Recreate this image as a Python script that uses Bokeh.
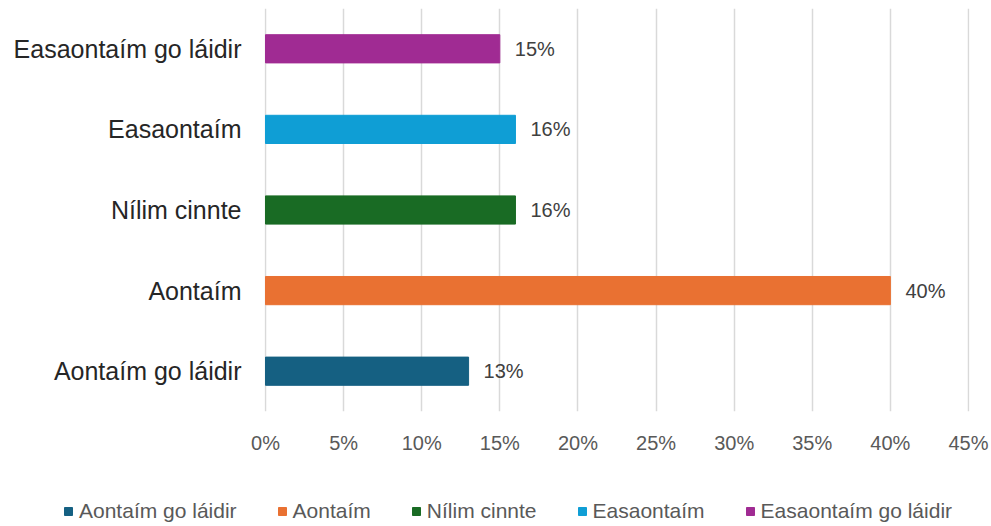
from bokeh.plotting import figure
from bokeh.layouts import column
from bokeh.models import ColumnDataSource, FactorRange, Range1d, FixedTicker, NumeralTickFormatter, Legend, LegendItem
from bokeh.core.properties import value
from bokeh.embed import file_html
from bokeh.resources import INLINE

categories = ["Aontaím go láidir", "Aontaím", "Nílim cinnte", "Easaontaím", "Easaontaím go láidir"]
values = [0.13, 0.40, 0.16, 0.16, 0.15]
colors = ["#156082", "#E97132", "#196B24", "#0F9ED5", "#A02B93"]
x_ticks = [0, 0.05, 0.10, 0.15, 0.20, 0.25, 0.30, 0.35, 0.40, 0.45]

labels = [f"{round(v * 100)}%" for v in values]
src = ColumnDataSource(dict(cats=categories, vals=values, colors=colors, labels=labels))

FONT = "Liberation Sans"

p = figure(width=991, height=470, y_range=FactorRange(*categories),
           x_range=Range1d(-0.00064, 0.45064),
           output_backend="svg", toolbar_location=None,
           min_border_left=264, min_border_right=22, min_border_top=8, min_border_bottom=59)
p.outline_line_color = None
p.background_fill_color = "white"
p.border_fill_color = "white"
p.frame_align = False

p.hbar(y="cats", right="vals", left=0, height=0.35, color="colors", source=src)

p.text(x="vals", y="cats", text="labels", source=src, x_offset=15,
       text_align="left", text_baseline="middle", text_font=value(FONT),
       text_font_size="20px", text_color="#404040")

# x axis
p.xaxis.ticker = FixedTicker(ticks=x_ticks)
p.xaxis.formatter = NumeralTickFormatter(format="0%")
p.xaxis.axis_line_color = None
p.xaxis.major_tick_line_color = None
p.xaxis.minor_tick_line_color = None
p.xaxis.major_tick_out = 0
p.xaxis.major_label_standoff = 20
p.xaxis.major_label_text_font = FONT
p.xaxis.major_label_text_font_size = "20px"
p.xaxis.major_label_text_color = "#595959"

# y axis
p.yaxis.axis_line_color = None
p.yaxis.major_tick_line_color = None
p.yaxis.minor_tick_line_color = None
p.yaxis.major_tick_out = 0
p.yaxis.major_label_standoff = 23
p.yaxis.major_label_text_font = FONT
p.yaxis.major_label_text_font_size = "25px"
p.yaxis.major_label_text_color = "#262626"

p.ygrid.grid_line_color = None
p.xgrid.ticker = FixedTicker(ticks=x_ticks)
p.xgrid.grid_line_color = "#d9d9d9"
p.xgrid.grid_line_width = 1.5

# legend strip: a hidden copy of the bars supplies the legend swatches
p2 = figure(width=991, height=56, y_range=FactorRange(*categories),
            x_range=Range1d(10, 11), x_axis_location=None, y_axis_location=None,
            output_backend="svg", toolbar_location=None,
            min_border_left=0, min_border_right=0, min_border_top=0, min_border_bottom=0)
p2.outline_line_color = None
p2.grid.grid_line_color = None
p2.border_fill_color = "white"
p2.frame_align = False
lbars = p2.hbar(y="cats", right="vals", left=0, height=0.35, color="colors", source=src)
lbars.visible = False

items = [LegendItem(label=c, renderers=[lbars], index=i) for i, c in enumerate(categories)]
lg = Legend(items=items, orientation="horizontal", location=(63, 3),
            margin=0, padding=0, border_line_color=None, background_fill_alpha=0,
            glyph_width=10, glyph_height=10, label_height=20, label_standoff=6,
            spacing=40, label_text_font=FONT, label_text_font_size="21px",
            label_text_color="#595959", click_policy="none")
p2.add_layout(lg, "center")

layout = column(p, p2, spacing=0)
open("out.html", "w").write(file_html(layout, INLINE))
